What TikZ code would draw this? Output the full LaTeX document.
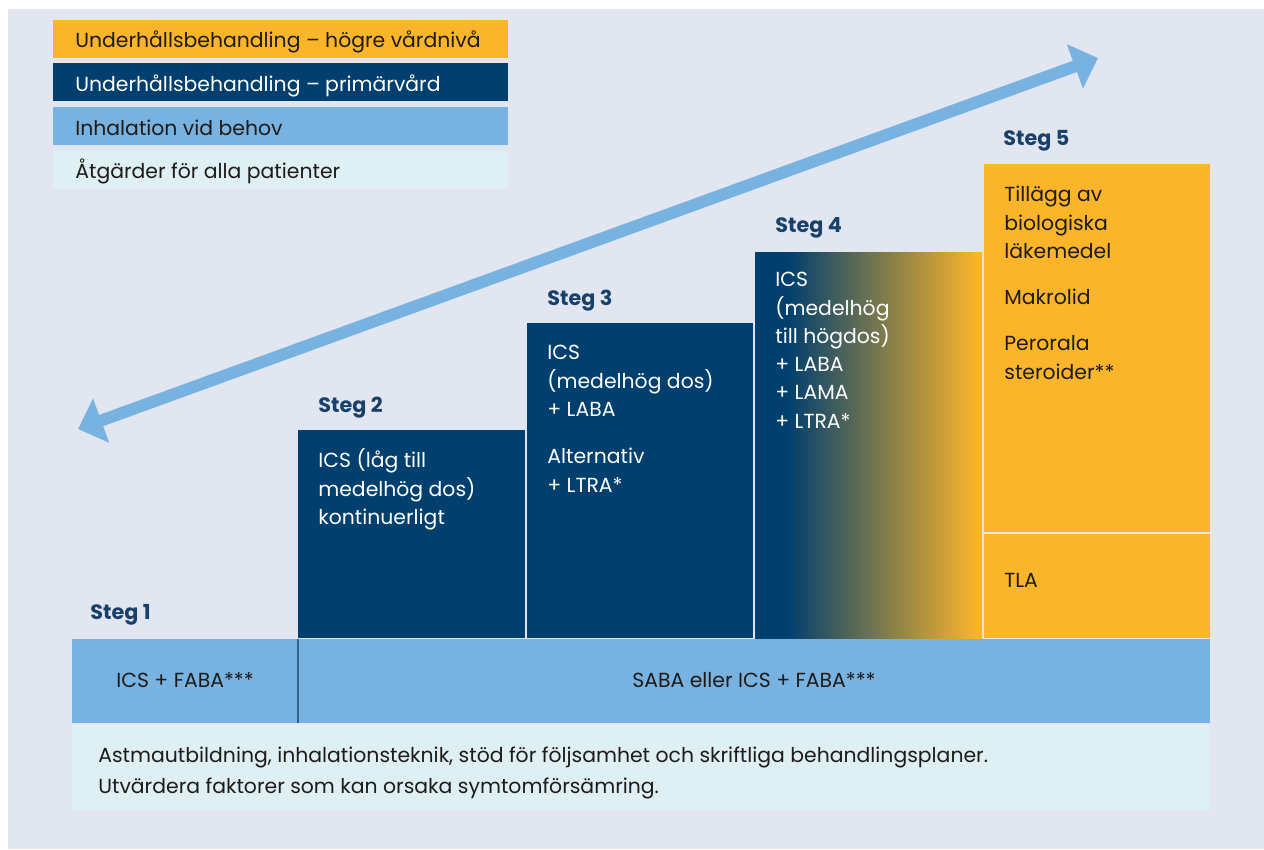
\documentclass[tikz,border=0pt]{standalone}
\usepackage{fontspec}
\setmainfont{Poppins}
\usetikzlibrary{arrows.meta,positioning,fit,calc}
\definecolor{sforange}{HTML}{FAB52A}
\definecolor{sfnavy}{HTML}{003F6E}
\definecolor{sfblue}{HTML}{77B2E0}
\definecolor{sfpale}{HTML}{DFF0F4}
\definecolor{sfbg}{HTML}{E2E6F0}
\definecolor{sfink}{HTML}{1E1B19}
\definecolor{sfsteg}{HTML}{17406A}
\definecolor{sfline}{HTML}{2F6591}
\pgfdeclarehorizontalshading{stegfyra}{100bp}{color(0bp)=(sfnavy); color(32bp)=(sfnavy); color(74bp)=(sforange); color(100bp)=(sforange)}

\begin{document}
\begin{tikzpicture}[
  x=0.02cm, y=-0.02cm,
  box/.style={inner sep=0pt, outer sep=0pt},
  legendtext/.style={anchor=base west, inner sep=0pt, font=\fontsize{11.6}{16.1}\selectfont},
  steglabel/.style={anchor=base west, inner sep=0pt, text=sfsteg, font=\fontsize{11.8}{16.1}\selectfont\bfseries},
  steptext/.style={anchor=north west, inner sep=0pt, align=left,
                   font=\fontsize{11.6}{16.1}\selectfont, execute at begin node=\strut},
  bandtext/.style={anchor=base, inner sep=0pt, text=sfink, font=\fontsize{11.6}{16.1}\selectfont},
  arr/.style={{Triangle[length=14pt,width=26pt]}-{Triangle[length=14pt,width=26pt]},
              line width=6.8pt, sfblue}
]
\useasboundingbox (0,0) rectangle (1264,849);
\fill[white] (0,0) rectangle (1264,849);
\fill[sfbg] (8,9) rectangle (1264,849);

% Legend
\node[box, fill=sforange, fit={(53,20) (508,58)}] (hogre) {};
\node[box, fill=sfnavy, fit={(53,63) (508,101)}] (primar) {};
\node[box, fill=sfblue, fit={(53,107) (508,145)}] (behov) {};
\node[box, fill=sfpale, fit={(53,151) (508,189)}] (alla) {};
\node[legendtext, text=sfink] at (75,47.5) {Underhållsbehandling – högre vårdnivå};
\node[legendtext, text=white] at (75,91.5) {Underhållsbehandling – primärvård};
\node[legendtext, text=sfink] at (75,135.5) {Inhalation vid behov};
\node[legendtext, text=sfink] at (75,178) {Åtgärder för alla patienter};

% Double arrow
\coordinate (lag) at (78,429);
\coordinate (hog) at (1098,58);
\draw[arr] (lag) -- (hog);

% Steps
\node[box, fill=sfnavy, fit={(298,430) (525,638)}] (s2) {};
\node[box, fill=sfnavy, fit={(527,323) (753,638)}] (s3) {};
\node[box, shading=stegfyra, fit={(755,252) (982,638)}] (s4) {};
\node[box, fill=sforange, fit={(984,164) (1210,532)}] (s5) {};
\node[box, fill=sforange, fit={(984,534) (1210,638)}] (tla) {};

\node[steglabel] (steg1) at (90,619) {Steg 1};
\node[steglabel] (steg2) at (318,412.7) {Steg 2};
\node[steglabel] (steg3) at (547,305) {Steg 3};
\node[steglabel] (steg4) at (775,232.7) {Steg 4};
\node[steglabel] (steg5) at (1003,145) {Steg 5};

\node[steptext, text=white] (s2txt) at (318,448.5) {ICS (låg till\\medelhög dos)\\kontinuerligt};
\node[steptext, text=white] (s3txt) at (547,345) {ICS\\(medelhög dos)\\+ LABA\\[11pt]Alternativ\\+ LTRA*};
\node[steptext, text=white] (s4txt) at (775,272) {ICS\\(medelhög\\till högdos)\\+ LABA\\+ LAMA\\+ LTRA*};
\node[steptext, text=sfink] (s5txt) at (1004,186) {Tillägg av\\biologiska\\läkemedel\\[10.2pt]Makrolid\\[10.2pt]Perorala\\steroider**};
\node[steptext, text=sfink] (tlatxt) at (1004,567.5) {TLA};

% Reliever band and common measures
\node[box, fill=sfblue, fit={(72,639) (298,723)}] (band1) {};
\node[box, fill=sfblue, fit={(298,639) (1210,723)}] (band2) {};
\draw[sfline, line width=1pt] (band1.north east) -- (band1.south east);
\node[bandtext] (band1txt) at (185,687) {ICS + FABA***};
\node[bandtext] (band2txt) at (754,687) {SABA eller ICS + FABA***};

\node[box, fill=sfpale, fit={(72,725) (1210,810)}] (atgarder) {};
\node[steptext, text=sfink, font=\fontsize{11.6}{17.8}\selectfont] (atgtxt) at (98,746.3)
  {Astmautbildning, inhalationsteknik, stöd för följsamhet och skriftliga behandlingsplaner.\\Utvärdera faktorer som kan orsaka symtomförsämring.};
\end{tikzpicture}
\end{document}
